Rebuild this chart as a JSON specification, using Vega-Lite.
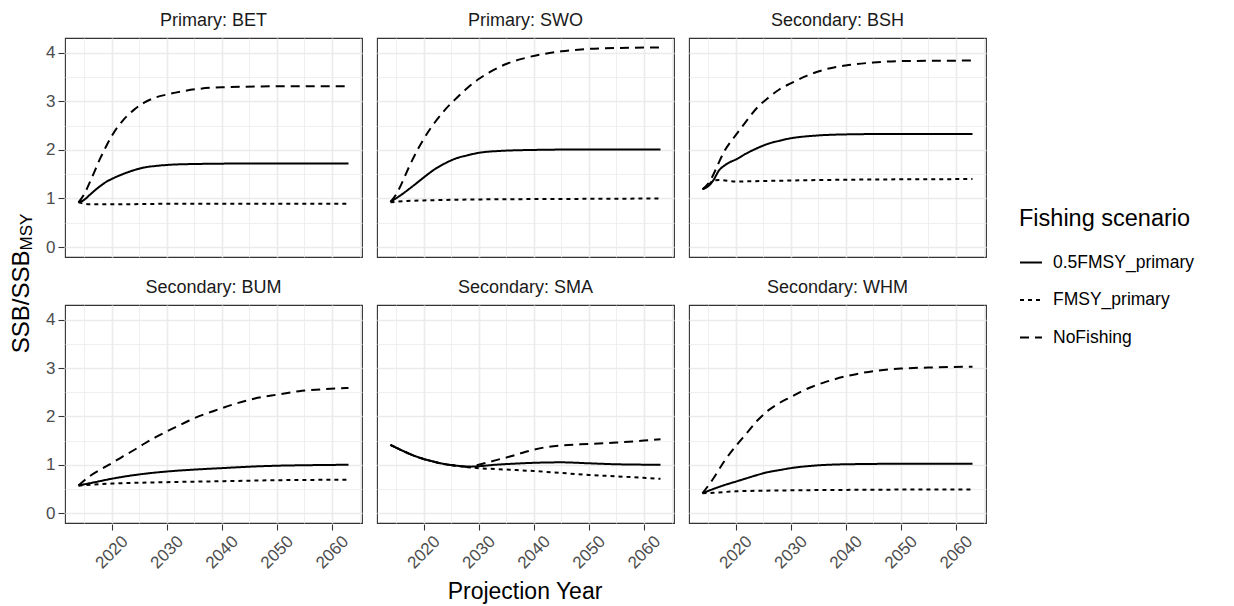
{
  "$schema": "https://vega.github.io/schema/vega-lite/v6.json",
  "background": "white",
  "padding": {"left": 9, "top": 12, "right": 5, "bottom": 0},
  "datasets": {
    "ssb": [
      {"panel": "Primary: BET", "scenario": "0.5FMSY_primary", "year": 2014, "ssb": 0.92},
      {"panel": "Primary: BET", "scenario": "0.5FMSY_primary", "year": 2015, "ssb": 0.97},
      {"panel": "Primary: BET", "scenario": "0.5FMSY_primary", "year": 2016, "ssb": 1.07},
      {"panel": "Primary: BET", "scenario": "0.5FMSY_primary", "year": 2017, "ssb": 1.17},
      {"panel": "Primary: BET", "scenario": "0.5FMSY_primary", "year": 2018, "ssb": 1.26},
      {"panel": "Primary: BET", "scenario": "0.5FMSY_primary", "year": 2019, "ssb": 1.34},
      {"panel": "Primary: BET", "scenario": "0.5FMSY_primary", "year": 2020, "ssb": 1.40},
      {"panel": "Primary: BET", "scenario": "0.5FMSY_primary", "year": 2022, "ssb": 1.50},
      {"panel": "Primary: BET", "scenario": "0.5FMSY_primary", "year": 2024, "ssb": 1.58},
      {"panel": "Primary: BET", "scenario": "0.5FMSY_primary", "year": 2026, "ssb": 1.64},
      {"panel": "Primary: BET", "scenario": "0.5FMSY_primary", "year": 2028, "ssb": 1.67},
      {"panel": "Primary: BET", "scenario": "0.5FMSY_primary", "year": 2030, "ssb": 1.69},
      {"panel": "Primary: BET", "scenario": "0.5FMSY_primary", "year": 2035, "ssb": 1.71},
      {"panel": "Primary: BET", "scenario": "0.5FMSY_primary", "year": 2045, "ssb": 1.72},
      {"panel": "Primary: BET", "scenario": "0.5FMSY_primary", "year": 2063, "ssb": 1.72},
      {"panel": "Primary: BET", "scenario": "FMSY_primary", "year": 2014, "ssb": 0.92},
      {"panel": "Primary: BET", "scenario": "FMSY_primary", "year": 2016, "ssb": 0.88},
      {"panel": "Primary: BET", "scenario": "FMSY_primary", "year": 2020, "ssb": 0.88},
      {"panel": "Primary: BET", "scenario": "FMSY_primary", "year": 2030, "ssb": 0.89},
      {"panel": "Primary: BET", "scenario": "FMSY_primary", "year": 2045, "ssb": 0.89},
      {"panel": "Primary: BET", "scenario": "FMSY_primary", "year": 2063, "ssb": 0.89},
      {"panel": "Primary: BET", "scenario": "NoFishing", "year": 2014, "ssb": 0.92},
      {"panel": "Primary: BET", "scenario": "NoFishing", "year": 2015, "ssb": 1.08},
      {"panel": "Primary: BET", "scenario": "NoFishing", "year": 2016, "ssb": 1.32},
      {"panel": "Primary: BET", "scenario": "NoFishing", "year": 2017, "ssb": 1.58},
      {"panel": "Primary: BET", "scenario": "NoFishing", "year": 2018, "ssb": 1.84},
      {"panel": "Primary: BET", "scenario": "NoFishing", "year": 2019, "ssb": 2.07},
      {"panel": "Primary: BET", "scenario": "NoFishing", "year": 2020, "ssb": 2.28},
      {"panel": "Primary: BET", "scenario": "NoFishing", "year": 2022, "ssb": 2.60},
      {"panel": "Primary: BET", "scenario": "NoFishing", "year": 2024, "ssb": 2.82},
      {"panel": "Primary: BET", "scenario": "NoFishing", "year": 2026, "ssb": 2.98},
      {"panel": "Primary: BET", "scenario": "NoFishing", "year": 2028, "ssb": 3.08},
      {"panel": "Primary: BET", "scenario": "NoFishing", "year": 2030, "ssb": 3.14},
      {"panel": "Primary: BET", "scenario": "NoFishing", "year": 2033, "ssb": 3.21},
      {"panel": "Primary: BET", "scenario": "NoFishing", "year": 2036, "ssb": 3.26},
      {"panel": "Primary: BET", "scenario": "NoFishing", "year": 2040, "ssb": 3.29},
      {"panel": "Primary: BET", "scenario": "NoFishing", "year": 2050, "ssb": 3.31},
      {"panel": "Primary: BET", "scenario": "NoFishing", "year": 2063, "ssb": 3.31},

      {"panel": "Primary: SWO", "scenario": "0.5FMSY_primary", "year": 2014, "ssb": 0.93},
      {"panel": "Primary: SWO", "scenario": "0.5FMSY_primary", "year": 2016, "ssb": 1.08},
      {"panel": "Primary: SWO", "scenario": "0.5FMSY_primary", "year": 2018, "ssb": 1.25},
      {"panel": "Primary: SWO", "scenario": "0.5FMSY_primary", "year": 2020, "ssb": 1.43},
      {"panel": "Primary: SWO", "scenario": "0.5FMSY_primary", "year": 2022, "ssb": 1.60},
      {"panel": "Primary: SWO", "scenario": "0.5FMSY_primary", "year": 2024, "ssb": 1.73},
      {"panel": "Primary: SWO", "scenario": "0.5FMSY_primary", "year": 2026, "ssb": 1.83},
      {"panel": "Primary: SWO", "scenario": "0.5FMSY_primary", "year": 2028, "ssb": 1.89},
      {"panel": "Primary: SWO", "scenario": "0.5FMSY_primary", "year": 2030, "ssb": 1.94},
      {"panel": "Primary: SWO", "scenario": "0.5FMSY_primary", "year": 2034, "ssb": 1.98},
      {"panel": "Primary: SWO", "scenario": "0.5FMSY_primary", "year": 2040, "ssb": 2.00},
      {"panel": "Primary: SWO", "scenario": "0.5FMSY_primary", "year": 2050, "ssb": 2.01},
      {"panel": "Primary: SWO", "scenario": "0.5FMSY_primary", "year": 2063, "ssb": 2.01},
      {"panel": "Primary: SWO", "scenario": "FMSY_primary", "year": 2014, "ssb": 0.92},
      {"panel": "Primary: SWO", "scenario": "FMSY_primary", "year": 2017, "ssb": 0.95},
      {"panel": "Primary: SWO", "scenario": "FMSY_primary", "year": 2020, "ssb": 0.96},
      {"panel": "Primary: SWO", "scenario": "FMSY_primary", "year": 2030, "ssb": 0.98},
      {"panel": "Primary: SWO", "scenario": "FMSY_primary", "year": 2045, "ssb": 0.99},
      {"panel": "Primary: SWO", "scenario": "FMSY_primary", "year": 2063, "ssb": 1.00},
      {"panel": "Primary: SWO", "scenario": "NoFishing", "year": 2014, "ssb": 0.93},
      {"panel": "Primary: SWO", "scenario": "NoFishing", "year": 2015, "ssb": 1.08},
      {"panel": "Primary: SWO", "scenario": "NoFishing", "year": 2016, "ssb": 1.30},
      {"panel": "Primary: SWO", "scenario": "NoFishing", "year": 2017, "ssb": 1.56},
      {"panel": "Primary: SWO", "scenario": "NoFishing", "year": 2018, "ssb": 1.80},
      {"panel": "Primary: SWO", "scenario": "NoFishing", "year": 2019, "ssb": 2.02},
      {"panel": "Primary: SWO", "scenario": "NoFishing", "year": 2020, "ssb": 2.22},
      {"panel": "Primary: SWO", "scenario": "NoFishing", "year": 2022, "ssb": 2.56},
      {"panel": "Primary: SWO", "scenario": "NoFishing", "year": 2024, "ssb": 2.84},
      {"panel": "Primary: SWO", "scenario": "NoFishing", "year": 2026, "ssb": 3.07},
      {"panel": "Primary: SWO", "scenario": "NoFishing", "year": 2028, "ssb": 3.28},
      {"panel": "Primary: SWO", "scenario": "NoFishing", "year": 2030, "ssb": 3.46},
      {"panel": "Primary: SWO", "scenario": "NoFishing", "year": 2032, "ssb": 3.60},
      {"panel": "Primary: SWO", "scenario": "NoFishing", "year": 2035, "ssb": 3.77},
      {"panel": "Primary: SWO", "scenario": "NoFishing", "year": 2038, "ssb": 3.88},
      {"panel": "Primary: SWO", "scenario": "NoFishing", "year": 2041, "ssb": 3.96},
      {"panel": "Primary: SWO", "scenario": "NoFishing", "year": 2045, "ssb": 4.03},
      {"panel": "Primary: SWO", "scenario": "NoFishing", "year": 2050, "ssb": 4.08},
      {"panel": "Primary: SWO", "scenario": "NoFishing", "year": 2055, "ssb": 4.10},
      {"panel": "Primary: SWO", "scenario": "NoFishing", "year": 2063, "ssb": 4.11},

      {"panel": "Secondary: BSH", "scenario": "0.5FMSY_primary", "year": 2014, "ssb": 1.19},
      {"panel": "Secondary: BSH", "scenario": "0.5FMSY_primary", "year": 2015, "ssb": 1.25},
      {"panel": "Secondary: BSH", "scenario": "0.5FMSY_primary", "year": 2016, "ssb": 1.38},
      {"panel": "Secondary: BSH", "scenario": "0.5FMSY_primary", "year": 2017, "ssb": 1.58},
      {"panel": "Secondary: BSH", "scenario": "0.5FMSY_primary", "year": 2018, "ssb": 1.68},
      {"panel": "Secondary: BSH", "scenario": "0.5FMSY_primary", "year": 2019, "ssb": 1.75},
      {"panel": "Secondary: BSH", "scenario": "0.5FMSY_primary", "year": 2020, "ssb": 1.80},
      {"panel": "Secondary: BSH", "scenario": "0.5FMSY_primary", "year": 2022, "ssb": 1.93},
      {"panel": "Secondary: BSH", "scenario": "0.5FMSY_primary", "year": 2024, "ssb": 2.04},
      {"panel": "Secondary: BSH", "scenario": "0.5FMSY_primary", "year": 2026, "ssb": 2.13},
      {"panel": "Secondary: BSH", "scenario": "0.5FMSY_primary", "year": 2028, "ssb": 2.19},
      {"panel": "Secondary: BSH", "scenario": "0.5FMSY_primary", "year": 2030, "ssb": 2.24},
      {"panel": "Secondary: BSH", "scenario": "0.5FMSY_primary", "year": 2034, "ssb": 2.29},
      {"panel": "Secondary: BSH", "scenario": "0.5FMSY_primary", "year": 2040, "ssb": 2.32},
      {"panel": "Secondary: BSH", "scenario": "0.5FMSY_primary", "year": 2050, "ssb": 2.33},
      {"panel": "Secondary: BSH", "scenario": "0.5FMSY_primary", "year": 2063, "ssb": 2.33},
      {"panel": "Secondary: BSH", "scenario": "FMSY_primary", "year": 2014, "ssb": 1.19},
      {"panel": "Secondary: BSH", "scenario": "FMSY_primary", "year": 2015, "ssb": 1.27},
      {"panel": "Secondary: BSH", "scenario": "FMSY_primary", "year": 2016, "ssb": 1.37},
      {"panel": "Secondary: BSH", "scenario": "FMSY_primary", "year": 2017, "ssb": 1.38},
      {"panel": "Secondary: BSH", "scenario": "FMSY_primary", "year": 2020, "ssb": 1.35},
      {"panel": "Secondary: BSH", "scenario": "FMSY_primary", "year": 2025, "ssb": 1.36},
      {"panel": "Secondary: BSH", "scenario": "FMSY_primary", "year": 2035, "ssb": 1.38},
      {"panel": "Secondary: BSH", "scenario": "FMSY_primary", "year": 2063, "ssb": 1.40},
      {"panel": "Secondary: BSH", "scenario": "NoFishing", "year": 2014, "ssb": 1.19},
      {"panel": "Secondary: BSH", "scenario": "NoFishing", "year": 2015, "ssb": 1.30},
      {"panel": "Secondary: BSH", "scenario": "NoFishing", "year": 2016, "ssb": 1.50},
      {"panel": "Secondary: BSH", "scenario": "NoFishing", "year": 2017, "ssb": 1.75},
      {"panel": "Secondary: BSH", "scenario": "NoFishing", "year": 2018, "ssb": 1.98},
      {"panel": "Secondary: BSH", "scenario": "NoFishing", "year": 2019, "ssb": 2.15},
      {"panel": "Secondary: BSH", "scenario": "NoFishing", "year": 2020, "ssb": 2.30},
      {"panel": "Secondary: BSH", "scenario": "NoFishing", "year": 2022, "ssb": 2.60},
      {"panel": "Secondary: BSH", "scenario": "NoFishing", "year": 2024, "ssb": 2.88},
      {"panel": "Secondary: BSH", "scenario": "NoFishing", "year": 2026, "ssb": 3.08},
      {"panel": "Secondary: BSH", "scenario": "NoFishing", "year": 2028, "ssb": 3.25},
      {"panel": "Secondary: BSH", "scenario": "NoFishing", "year": 2030, "ssb": 3.37},
      {"panel": "Secondary: BSH", "scenario": "NoFishing", "year": 2033, "ssb": 3.53},
      {"panel": "Secondary: BSH", "scenario": "NoFishing", "year": 2036, "ssb": 3.65},
      {"panel": "Secondary: BSH", "scenario": "NoFishing", "year": 2040, "ssb": 3.74},
      {"panel": "Secondary: BSH", "scenario": "NoFishing", "year": 2045, "ssb": 3.80},
      {"panel": "Secondary: BSH", "scenario": "NoFishing", "year": 2050, "ssb": 3.83},
      {"panel": "Secondary: BSH", "scenario": "NoFishing", "year": 2063, "ssb": 3.84},

      {"panel": "Secondary: BUM", "scenario": "0.5FMSY_primary", "year": 2014, "ssb": 0.57},
      {"panel": "Secondary: BUM", "scenario": "0.5FMSY_primary", "year": 2017, "ssb": 0.64},
      {"panel": "Secondary: BUM", "scenario": "0.5FMSY_primary", "year": 2020, "ssb": 0.71},
      {"panel": "Secondary: BUM", "scenario": "0.5FMSY_primary", "year": 2025, "ssb": 0.80},
      {"panel": "Secondary: BUM", "scenario": "0.5FMSY_primary", "year": 2030, "ssb": 0.86},
      {"panel": "Secondary: BUM", "scenario": "0.5FMSY_primary", "year": 2035, "ssb": 0.90},
      {"panel": "Secondary: BUM", "scenario": "0.5FMSY_primary", "year": 2040, "ssb": 0.93},
      {"panel": "Secondary: BUM", "scenario": "0.5FMSY_primary", "year": 2045, "ssb": 0.96},
      {"panel": "Secondary: BUM", "scenario": "0.5FMSY_primary", "year": 2050, "ssb": 0.98},
      {"panel": "Secondary: BUM", "scenario": "0.5FMSY_primary", "year": 2055, "ssb": 0.99},
      {"panel": "Secondary: BUM", "scenario": "0.5FMSY_primary", "year": 2063, "ssb": 1.00},
      {"panel": "Secondary: BUM", "scenario": "FMSY_primary", "year": 2014, "ssb": 0.57},
      {"panel": "Secondary: BUM", "scenario": "FMSY_primary", "year": 2020, "ssb": 0.61},
      {"panel": "Secondary: BUM", "scenario": "FMSY_primary", "year": 2030, "ssb": 0.64},
      {"panel": "Secondary: BUM", "scenario": "FMSY_primary", "year": 2040, "ssb": 0.66},
      {"panel": "Secondary: BUM", "scenario": "FMSY_primary", "year": 2050, "ssb": 0.68},
      {"panel": "Secondary: BUM", "scenario": "FMSY_primary", "year": 2063, "ssb": 0.69},
      {"panel": "Secondary: BUM", "scenario": "NoFishing", "year": 2014, "ssb": 0.57},
      {"panel": "Secondary: BUM", "scenario": "NoFishing", "year": 2016, "ssb": 0.76},
      {"panel": "Secondary: BUM", "scenario": "NoFishing", "year": 2018, "ssb": 0.90},
      {"panel": "Secondary: BUM", "scenario": "NoFishing", "year": 2020, "ssb": 1.03},
      {"panel": "Secondary: BUM", "scenario": "NoFishing", "year": 2022, "ssb": 1.17},
      {"panel": "Secondary: BUM", "scenario": "NoFishing", "year": 2024, "ssb": 1.30},
      {"panel": "Secondary: BUM", "scenario": "NoFishing", "year": 2026, "ssb": 1.44},
      {"panel": "Secondary: BUM", "scenario": "NoFishing", "year": 2028, "ssb": 1.57},
      {"panel": "Secondary: BUM", "scenario": "NoFishing", "year": 2030, "ssb": 1.69},
      {"panel": "Secondary: BUM", "scenario": "NoFishing", "year": 2032, "ssb": 1.80},
      {"panel": "Secondary: BUM", "scenario": "NoFishing", "year": 2034, "ssb": 1.91},
      {"panel": "Secondary: BUM", "scenario": "NoFishing", "year": 2036, "ssb": 2.01},
      {"panel": "Secondary: BUM", "scenario": "NoFishing", "year": 2038, "ssb": 2.09},
      {"panel": "Secondary: BUM", "scenario": "NoFishing", "year": 2040, "ssb": 2.17},
      {"panel": "Secondary: BUM", "scenario": "NoFishing", "year": 2043, "ssb": 2.28},
      {"panel": "Secondary: BUM", "scenario": "NoFishing", "year": 2046, "ssb": 2.37},
      {"panel": "Secondary: BUM", "scenario": "NoFishing", "year": 2050, "ssb": 2.45},
      {"panel": "Secondary: BUM", "scenario": "NoFishing", "year": 2054, "ssb": 2.52},
      {"panel": "Secondary: BUM", "scenario": "NoFishing", "year": 2058, "ssb": 2.56},
      {"panel": "Secondary: BUM", "scenario": "NoFishing", "year": 2063, "ssb": 2.59},

      {"panel": "Secondary: SMA", "scenario": "0.5FMSY_primary", "year": 2014, "ssb": 1.41},
      {"panel": "Secondary: SMA", "scenario": "0.5FMSY_primary", "year": 2016, "ssb": 1.30},
      {"panel": "Secondary: SMA", "scenario": "0.5FMSY_primary", "year": 2018, "ssb": 1.20},
      {"panel": "Secondary: SMA", "scenario": "0.5FMSY_primary", "year": 2020, "ssb": 1.12},
      {"panel": "Secondary: SMA", "scenario": "0.5FMSY_primary", "year": 2022, "ssb": 1.06},
      {"panel": "Secondary: SMA", "scenario": "0.5FMSY_primary", "year": 2024, "ssb": 1.01},
      {"panel": "Secondary: SMA", "scenario": "0.5FMSY_primary", "year": 2026, "ssb": 0.98},
      {"panel": "Secondary: SMA", "scenario": "0.5FMSY_primary", "year": 2028, "ssb": 0.96},
      {"panel": "Secondary: SMA", "scenario": "0.5FMSY_primary", "year": 2030, "ssb": 0.97},
      {"panel": "Secondary: SMA", "scenario": "0.5FMSY_primary", "year": 2033, "ssb": 1.00},
      {"panel": "Secondary: SMA", "scenario": "0.5FMSY_primary", "year": 2036, "ssb": 1.02},
      {"panel": "Secondary: SMA", "scenario": "0.5FMSY_primary", "year": 2040, "ssb": 1.04},
      {"panel": "Secondary: SMA", "scenario": "0.5FMSY_primary", "year": 2045, "ssb": 1.05},
      {"panel": "Secondary: SMA", "scenario": "0.5FMSY_primary", "year": 2050, "ssb": 1.03},
      {"panel": "Secondary: SMA", "scenario": "0.5FMSY_primary", "year": 2055, "ssb": 1.01},
      {"panel": "Secondary: SMA", "scenario": "0.5FMSY_primary", "year": 2063, "ssb": 1.00},
      {"panel": "Secondary: SMA", "scenario": "FMSY_primary", "year": 2014, "ssb": 1.41},
      {"panel": "Secondary: SMA", "scenario": "FMSY_primary", "year": 2016, "ssb": 1.30},
      {"panel": "Secondary: SMA", "scenario": "FMSY_primary", "year": 2018, "ssb": 1.20},
      {"panel": "Secondary: SMA", "scenario": "FMSY_primary", "year": 2020, "ssb": 1.12},
      {"panel": "Secondary: SMA", "scenario": "FMSY_primary", "year": 2022, "ssb": 1.06},
      {"panel": "Secondary: SMA", "scenario": "FMSY_primary", "year": 2024, "ssb": 1.01},
      {"panel": "Secondary: SMA", "scenario": "FMSY_primary", "year": 2026, "ssb": 0.98},
      {"panel": "Secondary: SMA", "scenario": "FMSY_primary", "year": 2028, "ssb": 0.95},
      {"panel": "Secondary: SMA", "scenario": "FMSY_primary", "year": 2030, "ssb": 0.93},
      {"panel": "Secondary: SMA", "scenario": "FMSY_primary", "year": 2035, "ssb": 0.90},
      {"panel": "Secondary: SMA", "scenario": "FMSY_primary", "year": 2040, "ssb": 0.87},
      {"panel": "Secondary: SMA", "scenario": "FMSY_primary", "year": 2045, "ssb": 0.83},
      {"panel": "Secondary: SMA", "scenario": "FMSY_primary", "year": 2050, "ssb": 0.79},
      {"panel": "Secondary: SMA", "scenario": "FMSY_primary", "year": 2055, "ssb": 0.76},
      {"panel": "Secondary: SMA", "scenario": "FMSY_primary", "year": 2060, "ssb": 0.73},
      {"panel": "Secondary: SMA", "scenario": "FMSY_primary", "year": 2063, "ssb": 0.71},
      {"panel": "Secondary: SMA", "scenario": "NoFishing", "year": 2014, "ssb": 1.41},
      {"panel": "Secondary: SMA", "scenario": "NoFishing", "year": 2016, "ssb": 1.30},
      {"panel": "Secondary: SMA", "scenario": "NoFishing", "year": 2018, "ssb": 1.20},
      {"panel": "Secondary: SMA", "scenario": "NoFishing", "year": 2020, "ssb": 1.12},
      {"panel": "Secondary: SMA", "scenario": "NoFishing", "year": 2022, "ssb": 1.06},
      {"panel": "Secondary: SMA", "scenario": "NoFishing", "year": 2024, "ssb": 1.01},
      {"panel": "Secondary: SMA", "scenario": "NoFishing", "year": 2026, "ssb": 0.98},
      {"panel": "Secondary: SMA", "scenario": "NoFishing", "year": 2028, "ssb": 0.96},
      {"panel": "Secondary: SMA", "scenario": "NoFishing", "year": 2030, "ssb": 1.00},
      {"panel": "Secondary: SMA", "scenario": "NoFishing", "year": 2032, "ssb": 1.06},
      {"panel": "Secondary: SMA", "scenario": "NoFishing", "year": 2034, "ssb": 1.12},
      {"panel": "Secondary: SMA", "scenario": "NoFishing", "year": 2036, "ssb": 1.18},
      {"panel": "Secondary: SMA", "scenario": "NoFishing", "year": 2038, "ssb": 1.25},
      {"panel": "Secondary: SMA", "scenario": "NoFishing", "year": 2040, "ssb": 1.31},
      {"panel": "Secondary: SMA", "scenario": "NoFishing", "year": 2042, "ssb": 1.36},
      {"panel": "Secondary: SMA", "scenario": "NoFishing", "year": 2045, "ssb": 1.40},
      {"panel": "Secondary: SMA", "scenario": "NoFishing", "year": 2050, "ssb": 1.43},
      {"panel": "Secondary: SMA", "scenario": "NoFishing", "year": 2055, "ssb": 1.46},
      {"panel": "Secondary: SMA", "scenario": "NoFishing", "year": 2060, "ssb": 1.50},
      {"panel": "Secondary: SMA", "scenario": "NoFishing", "year": 2063, "ssb": 1.53},

      {"panel": "Secondary: WHM", "scenario": "0.5FMSY_primary", "year": 2014, "ssb": 0.41},
      {"panel": "Secondary: WHM", "scenario": "0.5FMSY_primary", "year": 2016, "ssb": 0.50},
      {"panel": "Secondary: WHM", "scenario": "0.5FMSY_primary", "year": 2018, "ssb": 0.58},
      {"panel": "Secondary: WHM", "scenario": "0.5FMSY_primary", "year": 2020, "ssb": 0.65},
      {"panel": "Secondary: WHM", "scenario": "0.5FMSY_primary", "year": 2022, "ssb": 0.72},
      {"panel": "Secondary: WHM", "scenario": "0.5FMSY_primary", "year": 2024, "ssb": 0.79},
      {"panel": "Secondary: WHM", "scenario": "0.5FMSY_primary", "year": 2026, "ssb": 0.85},
      {"panel": "Secondary: WHM", "scenario": "0.5FMSY_primary", "year": 2028, "ssb": 0.89},
      {"panel": "Secondary: WHM", "scenario": "0.5FMSY_primary", "year": 2030, "ssb": 0.93},
      {"panel": "Secondary: WHM", "scenario": "0.5FMSY_primary", "year": 2034, "ssb": 0.98},
      {"panel": "Secondary: WHM", "scenario": "0.5FMSY_primary", "year": 2040, "ssb": 1.01},
      {"panel": "Secondary: WHM", "scenario": "0.5FMSY_primary", "year": 2050, "ssb": 1.02},
      {"panel": "Secondary: WHM", "scenario": "0.5FMSY_primary", "year": 2063, "ssb": 1.02},
      {"panel": "Secondary: WHM", "scenario": "FMSY_primary", "year": 2014, "ssb": 0.41},
      {"panel": "Secondary: WHM", "scenario": "FMSY_primary", "year": 2016, "ssb": 0.42},
      {"panel": "Secondary: WHM", "scenario": "FMSY_primary", "year": 2020, "ssb": 0.45},
      {"panel": "Secondary: WHM", "scenario": "FMSY_primary", "year": 2030, "ssb": 0.47},
      {"panel": "Secondary: WHM", "scenario": "FMSY_primary", "year": 2040, "ssb": 0.48},
      {"panel": "Secondary: WHM", "scenario": "FMSY_primary", "year": 2063, "ssb": 0.49},
      {"panel": "Secondary: WHM", "scenario": "NoFishing", "year": 2014, "ssb": 0.41},
      {"panel": "Secondary: WHM", "scenario": "NoFishing", "year": 2016, "ssb": 0.72},
      {"panel": "Secondary: WHM", "scenario": "NoFishing", "year": 2018, "ssb": 1.08},
      {"panel": "Secondary: WHM", "scenario": "NoFishing", "year": 2020, "ssb": 1.38},
      {"panel": "Secondary: WHM", "scenario": "NoFishing", "year": 2022, "ssb": 1.65},
      {"panel": "Secondary: WHM", "scenario": "NoFishing", "year": 2024, "ssb": 1.92},
      {"panel": "Secondary: WHM", "scenario": "NoFishing", "year": 2026, "ssb": 2.13},
      {"panel": "Secondary: WHM", "scenario": "NoFishing", "year": 2028, "ssb": 2.28},
      {"panel": "Secondary: WHM", "scenario": "NoFishing", "year": 2030, "ssb": 2.40},
      {"panel": "Secondary: WHM", "scenario": "NoFishing", "year": 2032, "ssb": 2.52},
      {"panel": "Secondary: WHM", "scenario": "NoFishing", "year": 2034, "ssb": 2.62},
      {"panel": "Secondary: WHM", "scenario": "NoFishing", "year": 2036, "ssb": 2.70},
      {"panel": "Secondary: WHM", "scenario": "NoFishing", "year": 2038, "ssb": 2.77},
      {"panel": "Secondary: WHM", "scenario": "NoFishing", "year": 2040, "ssb": 2.83},
      {"panel": "Secondary: WHM", "scenario": "NoFishing", "year": 2043, "ssb": 2.90},
      {"panel": "Secondary: WHM", "scenario": "NoFishing", "year": 2046, "ssb": 2.95},
      {"panel": "Secondary: WHM", "scenario": "NoFishing", "year": 2050, "ssb": 2.99},
      {"panel": "Secondary: WHM", "scenario": "NoFishing", "year": 2055, "ssb": 3.01},
      {"panel": "Secondary: WHM", "scenario": "NoFishing", "year": 2063, "ssb": 3.03}
    ]
  },
  "spacing": -9,
  "vconcat": [
    {
      "data": {"name": "ssb"},
      "transform": [{"filter": {"field": "panel", "oneOf": ["Primary: BET", "Primary: SWO", "Secondary: BSH"]}}],
      "facet": {
        "column": {
          "field": "panel",
          "type": "nominal",
          "sort": ["Primary: BET", "Primary: SWO", "Secondary: BSH"],
          "title": null
        }
      },
      "spacing": {"column": 13},
      "spec": {
        "width": 297,
        "height": 219,
        "mark": {"type": "line", "interpolate": "monotone", "strokeWidth": 2, "color": "#000000"},
        "encoding": {
          "x": {
            "field": "year",
            "type": "quantitative",
            "scale": {"domain": [2011.55, 2065.45], "nice": false, "zero": false},
            "axis": {
              "title": null,
              "values": [2015, 2020, 2025, 2030, 2035, 2040, 2045, 2050, 2055, 2060, 2065],
              "labels": false,
              "ticks": false,
              "gridWidth": {"condition": {"test": "datum.value % 10 === 0", "value": 1.6}, "value": 0.8}
            }
          },
          "y": {
            "field": "ssb",
            "type": "quantitative",
            "scale": {"domain": [-0.205, 4.305], "nice": false, "zero": false},
            "axis": {
              "title": "MSY",
              "titleFontSize": 17,
              "titleAngle": 270,
              "titleAlign": "left",
              "titleBaseline": "alphabetic",
              "titleX": -32.5,
              "titleY": 212,
              "values": [0, 0.5, 1, 1.5, 2, 2.5, 3, 3.5, 4],
              "labelExpr": "datum.value % 1 === 0 ? format(datum.value, 'd') : ''",
              "tickOpacity": {"condition": {"test": "datum.value % 1 === 0", "value": 1}, "value": 0},
              "gridWidth": {"condition": {"test": "datum.value % 1 === 0", "value": 1.6}, "value": 0.8}
            }
          },
          "strokeDash": {
            "field": "scenario",
            "type": "nominal",
            "title": "Fishing scenario",
            "scale": {
              "domain": ["0.5FMSY_primary", "FMSY_primary", "NoFishing"],
              "range": [[1, 0], [4, 4], [9, 6]]
            },
            "legend": {"orient": "none", "legendX": 954, "legendY": 169}
          }
        }
      }
    },
    {
      "data": {"name": "ssb"},
      "transform": [{"filter": {"field": "panel", "oneOf": ["Secondary: BUM", "Secondary: SMA", "Secondary: WHM"]}}],
      "facet": {
        "column": {
          "field": "panel",
          "type": "nominal",
          "sort": ["Secondary: BUM", "Secondary: SMA", "Secondary: WHM"],
          "title": "Projection Year",
          "header": {"titleOrient": "bottom", "labelOrient": "top"}
        }
      },
      "spacing": {"column": 13},
      "spec": {
        "width": 297,
        "height": 218,
        "mark": {"type": "line", "interpolate": "monotone", "strokeWidth": 2, "color": "#000000"},
        "encoding": {
          "x": {
            "field": "year",
            "type": "quantitative",
            "scale": {"domain": [2011.55, 2065.45], "nice": false, "zero": false},
            "axis": {
              "title": null,
              "values": [2015, 2020, 2025, 2030, 2035, 2040, 2045, 2050, 2055, 2060, 2065],
              "format": "d",
              "labelExpr": "datum.value % 10 === 0 ? datum.label : ''",
              "labelAngle": -45,
              "labelAlign": "center",
              "labelBaseline": "middle",
              "labelPadding": 22,
              "tickOpacity": {"condition": {"test": "datum.value % 10 === 0", "value": 1}, "value": 0},
              "gridWidth": {"condition": {"test": "datum.value % 10 === 0", "value": 1.6}, "value": 0.8}
            }
          },
          "y": {
            "field": "ssb",
            "type": "quantitative",
            "scale": {"domain": [-0.205, 4.305], "nice": false, "zero": false},
            "axis": {
              "title": "SSB/SSB",
              "titleFontSize": 24,
              "titleAngle": 270,
              "titleAlign": "right",
              "titleBaseline": "alphabetic",
              "titleX": -35.5,
              "titleY": -55,
              "values": [0, 0.5, 1, 1.5, 2, 2.5, 3, 3.5, 4],
              "labelExpr": "datum.value % 1 === 0 ? format(datum.value, 'd') : ''",
              "tickOpacity": {"condition": {"test": "datum.value % 1 === 0", "value": 1}, "value": 0},
              "gridWidth": {"condition": {"test": "datum.value % 1 === 0", "value": 1.6}, "value": 0.8}
            }
          },
          "strokeDash": {
            "field": "scenario",
            "type": "nominal",
            "title": "Fishing scenario",
            "scale": {
              "domain": ["0.5FMSY_primary", "FMSY_primary", "NoFishing"],
              "range": [[1, 0], [4, 4], [9, 6]]
            },
            "legend": {"orient": "none", "legendX": 954, "legendY": 169}
          }
        }
      }
    }
  ],
  "config": {
    "font": "Liberation Sans",
    "view": {"stroke": "#333333", "strokeWidth": 1.1},
    "axis": {
      "domain": false,
      "gridColor": "#EBEBEB",
      "tickColor": "#333333",
      "tickSize": 6,
      "tickWidth": 1.1,
      "labelColor": "#4D4D4D",
      "labelFont": "Liberation Sans",
      "labelFontSize": 17,
      "labelPadding": 3,
      "titleFont": "Liberation Sans",
      "titleFontWeight": "normal",
      "titleColor": "#000000"
    },
    "header": {
      "labelFont": "Liberation Sans",
      "labelFontSize": 18,
      "labelColor": "#1A1A1A",
      "labelPadding": 7,
      "titleFont": "Liberation Sans",
      "titleFontSize": 23,
      "titleFontWeight": "normal",
      "titleColor": "#000000",
      "titlePadding": -1
    },
    "legend": {
      "titleFont": "Liberation Sans",
      "titleFontSize": 23.5,
      "titleFontWeight": "normal",
      "titleColor": "#000000",
      "titlePadding": 20,
      "labelFont": "Liberation Sans",
      "labelFontSize": 17.5,
      "labelColor": "#000000",
      "labelOffset": 10,
      "symbolType": "stroke",
      "symbolSize": 484,
      "symbolStrokeColor": "#000000",
      "symbolStrokeWidth": 2,
      "rowPadding": 16.5
    }
  }
}
